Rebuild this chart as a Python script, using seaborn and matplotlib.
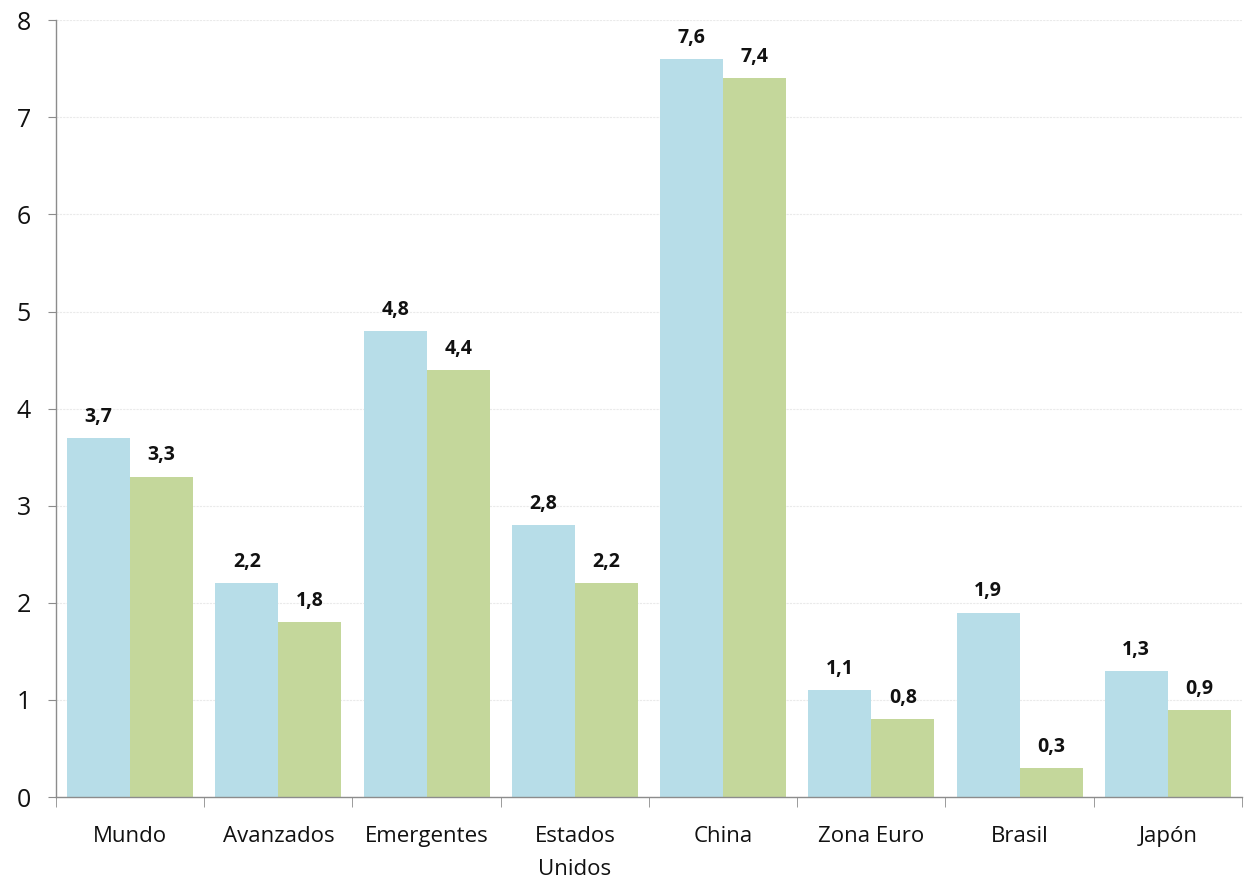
import matplotlib
matplotlib.use("Agg")
import matplotlib.pyplot as plt
import seaborn as sns
import pandas as pd

categorias = ["Mundo", "Avanzados", "Emergentes", "Estados\nUnidos", "China",
              "Zona Euro", "Brasil", "Japón"]
serie_a = [3.7, 2.2, 4.8, 2.8, 7.6, 1.1, 1.9, 1.3]
serie_b = [3.3, 1.8, 4.4, 2.2, 7.4, 0.8, 0.3, 0.9]
series = ["A", "B"]
colores = ["#B7DDE8", "#C4D79B"]

df = pd.DataFrame({
    "categoria": categorias * 2,
    "valor": serie_a + serie_b,
    "serie": [series[0]] * len(categorias) + [series[1]] * len(categorias),
})

sns.set_style("white")
plt.rcParams["font.family"] = ["Open Sans", "DejaVu Sans"]

fig = plt.figure(figsize=(12.45, 8.8), dpi=100)
ax = fig.add_axes([0.045, 0.0943, 0.9525, 0.8827])

sns.barplot(data=df, x="categoria", y="valor", hue="serie", palette=colores,
            width=0.85, saturation=1, ax=ax, legend=False, errorbar=None)

for cont in ax.containers:
    for bar in cont:
        bar.set_edgecolor("none")
        h = bar.get_height()
        ax.annotate(f"{h:.1f}".replace(".", ","),
                    (bar.get_x() + bar.get_width() / 2, h),
                    xytext=(0, 8), textcoords="offset points",
                    ha="center", va="bottom", fontsize=14, fontweight="bold",
                    color="#111111")

ax.set_ylim(0, 8)
ax.set_xlim(-0.5, len(categorias) - 0.5)
ax.set_yticks(range(0, 9))
ax.yaxis.grid(True, color="#EAEAEA", linewidth=0.8, linestyle=(0, (2, 1)))
ax.set_axisbelow(True)
ax.set_xlabel("")
ax.set_ylabel("")

for s in ["top", "right"]:
    ax.spines[s].set_visible(False)
for s in ["left", "bottom"]:
    ax.spines[s].set_color("#8C8C8C")
    ax.spines[s].set_linewidth(1.0)

# category labels centered, tick marks at group boundaries
ax.set_xticks(range(len(categorias)))
ax.set_xticklabels(categorias, fontsize=16, color="#111111", linespacing=1.75)
ax.tick_params(axis="x", length=0, pad=21)
ax.set_xticks([i - 0.5 for i in range(len(categorias) + 1)], minor=True)
ax.tick_params(axis="x", which="minor", length=7, color="#8C8C8C", direction="out", bottom=True)
for lbl in ax.get_xticklabels():
    lbl.set_verticalalignment("top")
ax.tick_params(axis="y", labelsize=18, length=6, color="#8C8C8C", direction="out",
               left=True, labelcolor="#111111", pad=12)

fig.savefig("out.png", dpi=100, facecolor="white")
